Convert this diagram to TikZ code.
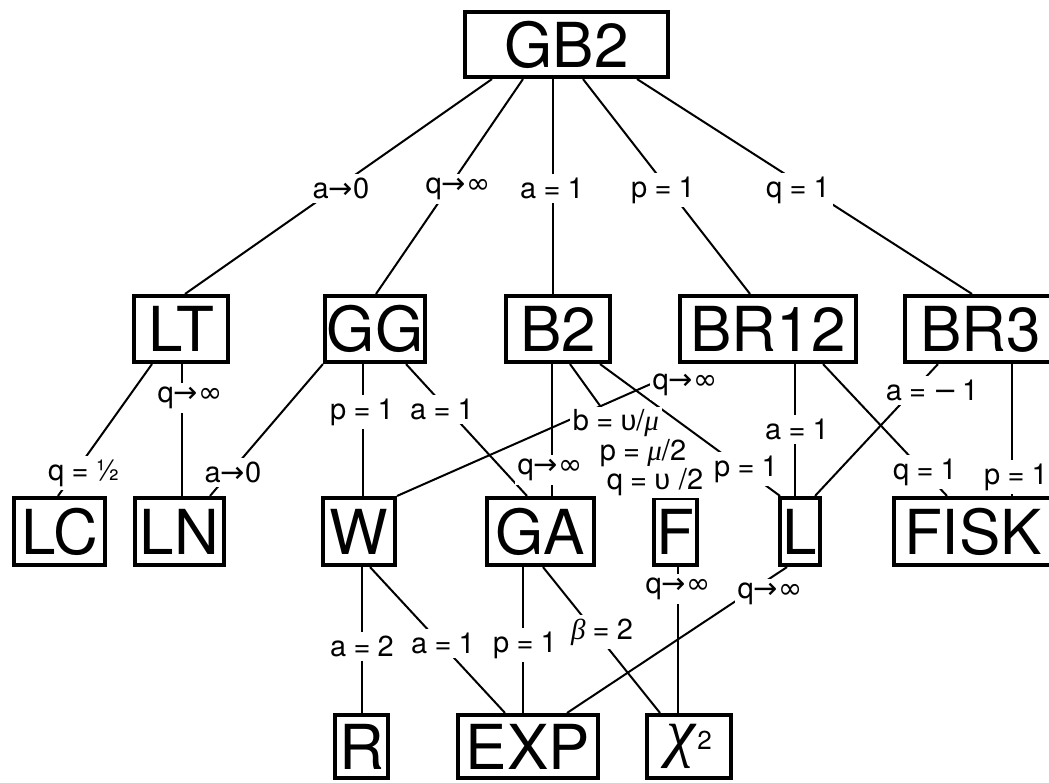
\documentclass[tikz,border=0pt]{standalone}
\usepackage{fontspec}
\setmainfont{TeX Gyre Heros}
\newfontfamily\symfont{DejaVu Sans}
\newfontfamily\grkfont{Liberation Sans}
\newfontfamily\grkserif{Liberation Serif}
% small helpers for the condition labels
\newcommand\tto{{\symfont →}}
\newcommand\inff{{\symfont ∞}}
\newcommand\eqs{\hspace{0.25em}=\hspace{0.25em}}
\newcommand\ups{{\grkfont υ}}
\newcommand\gmu{{\grkserif\itshape μ}}
\newcommand\gbeta{{\grkserif\itshape β}}
\newcommand\mns{{\symfont −}}
\begin{document}
\begin{tikzpicture}[x=1pt,y=-1pt,
  box/.style={draw, line width=3.6pt, inner sep=0pt,
    font=\fontsize{62}{62}\selectfont},
  rowA/.style={box, minimum height=66.5pt},
  rowB/.style={box, minimum height=67.5pt},
  rowC/.style={box, minimum height=63.5pt},
  conn/.style={line width=2pt},
  lbl/.style={fill=white, inner xsep=3pt, inner ysep=4pt,
    font=\fontsize{29}{29}\selectfont},
  lbltight/.style={lbl, inner ysep=2.5pt}]
\useasboundingbox (0,0) rectangle (1049,782);
\clip (0,0) rectangle (1049,782);

% ---- distributions ----
\node[box, minimum width=203.5pt, minimum height=65.5pt] (GB2) at (566.5,44.5) {GB2};

\node[rowA, minimum width=94.5pt]  (LT)   at (181,329)   {LT};
\node[rowA, minimum width=100.5pt] (GG)   at (375,329)   {GG};
\node[rowA, minimum width=104.5pt] (B2)   at (558,329)   {B2};
\node[rowA, minimum width=176.5pt] (BR12) at (768,329)   {BR12};
\node[rowA, minimum width=151.5pt] (BR3)  at (980.5,329) {BR3};

\node[rowB, minimum width=91.5pt]  (LC)   at (59.5,531.5)  {LC};
\node[rowB, minimum width=89.5pt]  (LN)   at (179.5,531.5) {LN};
\node[rowB, minimum width=72.5pt]  (W)    at (359,531.5)   {W};
\node[rowB, minimum width=107.5pt] (GA)   at (540.5,531.5) {GA};
\node[rowB, minimum width=43.5pt]  (F)    at (675.5,531.5) {F};
\node[rowB, minimum width=40.5pt]  (L)    at (800,531.5)   {L};
\node[rowB, minimum width=158.5pt] (FISK) at (973,531.5)   {FISK};

\node[rowC, minimum width=53.5pt]  (R)    at (361.5,746.5) {R};
\node[rowC, minimum width=140.5pt] (EXP)  at (528,746.5)   {EXP};
\node[rowC, minimum width=84.5pt]  (CHI)  at (689,746.5)
  {{\fontsize{66}{66}\selectfont\raisebox{0.21em}{\grkserif\itshape χ}}\hspace{2pt}\raisebox{19pt}{\fontsize{26}{26}\selectfont 2}};

% ---- connectors ----
\draw[conn] ([xshift=-74.5pt]GB2.south) -- ([xshift=4pt]LT.north);
\draw[conn] ([xshift=-43.5pt]GB2.south) -- ([xshift=1pt]GG.north);
\draw[conn] ([xshift=-14pt]GB2.south)   -- ([xshift=-5.5pt]B2.north);
\draw[conn] ([xshift=16.5pt]GB2.south)  -- ([xshift=-18pt]BR12.north);
\draw[conn] ([xshift=70.5pt]GB2.south)  -- ([xshift=-8.5pt]BR3.north);

\draw[conn] ([xshift=-29pt]LT.south) -- ([xshift=-1.5pt]LC.north);
\draw[conn] ([xshift=1pt]LT.south)   -- ([xshift=2.5pt]LN.north);
\draw[conn] (GG.south west)          -- ([xshift=30.5pt]LN.north);
\draw[conn] ([xshift=-12pt]GG.south) -- ([xshift=4pt]W.north);
\draw[conn] ([xshift=31pt]GG.south)  -- ([xshift=-13.5pt]GA.north);

\draw[conn] ([xshift=-6pt]B2.south)  -- ([xshift=11.5pt]GA.north);
\draw[conn] ([xshift=12pt]B2.south)  -- ([xshift=-10.5pt]F.north);
\draw[conn] ([xshift=42pt]B2.south)  -- ([xshift=-20pt]L.north);

\draw[conn, shorten >=50pt] (W.north east) -- ([xshift=-72pt]BR12.south);
\draw[conn] ([xshift=27pt]BR12.south) -- ([xshift=-5pt]L.north);
\draw[conn] ([xshift=55pt]BR12.south) -- ([xshift=-26pt]FISK.north);
\draw[conn] ([xshift=-42.5pt]BR3.south) -- ([xshift=15pt]L.north);
\draw[conn] ([xshift=31.5pt]BR3.south)  -- ([xshift=39pt]FISK.north);

\draw[conn] ([xshift=3pt]W.south)     -- ([xshift=0.5pt]R.north);
\draw[conn] ([xshift=11pt]W.south)    -- ([xshift=-23pt]EXP.north);
\draw[conn] ([xshift=-17.5pt]GA.south) -- ([xshift=-5pt]EXP.north);
\draw[conn] ([xshift=2.5pt]GA.south)  -- ([xshift=-29pt]CHI.north);
\draw[conn] ([xshift=2.5pt]F.south)   -- ([xshift=-11pt]CHI.north);
\draw[conn] ([xshift=-13pt]L.south)   -- ([xshift=39pt]EXP.north);

% ---- conditions on the connectors ----
\node[lbl] (c1) at (341,188) {a\tto 0};
\node[lbl] (c2) at (458,189) {q\tto\inff};
\node[lbl] (c3) at (552,188) {a\eqs 1};
\node[lbl] (c4) at (663,190) {p\eqs 1};
\node[lbl] (c5) at (798,190) {q\eqs 1};

\node[lbl] (c6) at (84,473)  {q\eqs ½};
\node[lbl] (c7) at (190,398) {q\tto\inff};
\node[lbl] (c8) at (233,472) {a\tto 0};
\node[lbl] (c9) at (362,412) {p\eqs 1};
\node[lbl] (c10) at (442,409) {a\eqs 1};
\node[lbl] (c11) at (550,470) {q\tto\inff};

\node[lbltight] (c12a) at (616,423) {b\eqs\ups/\gmu};
\node[lbltight] (c12b) at (643,453) {p\eqs\gmu/2};
\node[lbltight] (c12c) at (655,482) {q\eqs\ups\hspace{0.3em}/2};
\node[lbl] (c13) at (746,469) {p\eqs 1};

\node[lbl] (c14) at (685,385) {q\tto\inff};
\node[lbl] (c15) at (797,429) {a\eqs 1};
\node[lbl] (c16) at (925,472) {q\eqs 1};
\node[lbl] (c17) at (932,390) {a\eqs\mns\hspace{0.15em}1};
\node[lbl] (c18) at (1016,477) {p\eqs 1};

\node[lbl] (c19) at (362,646) {a\eqs 2};
\node[lbl] (c20) at (443,643) {a\eqs 1};
\node[lbl] (c21) at (525,645) {p\eqs 1};
\node[lbl] (c22) at (602,632) {\gbeta\eqs 2};
\node[lbl] (c23) at (678,589) {q\tto\inff};
\node[lbl] (c24) at (770,594) {q\tto\inff};
\end{tikzpicture}
\end{document}
